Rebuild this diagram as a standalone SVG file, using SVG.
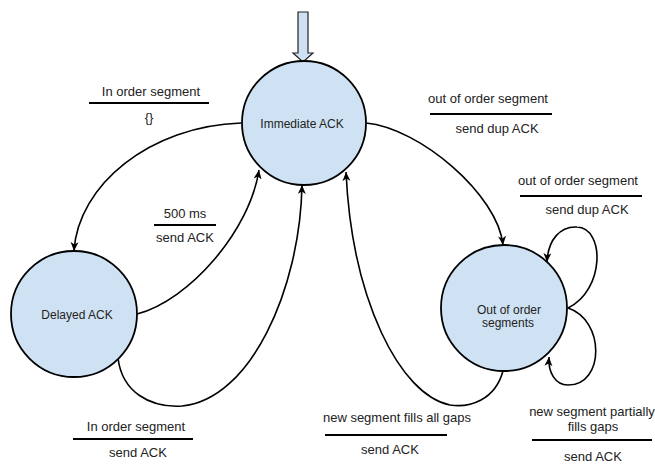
<svg xmlns="http://www.w3.org/2000/svg" width="655" height="464" viewBox="0 0 655 464">
<style>
.node circle{fill:#cfe2f3;stroke:#000;stroke-width:1.8}
.node text{font-family:"Liberation Sans",Arial,sans-serif;font-size:12px;fill:#222;text-anchor:middle}
.lbl text{font-family:"Liberation Sans",Arial,sans-serif;font-size:13px;fill:#222;text-anchor:middle}
.lbl line{stroke:#000;stroke-width:2}
.edge{fill:none;stroke:#000;stroke-width:1.6;marker-end:url(#ah)}
</style>
<defs>
<marker id="ah" markerUnits="userSpaceOnUse" markerWidth="12" markerHeight="10" refX="9" refY="4" orient="auto">
<path d="M0,0 L9,4 L0,8 L2.5,4 Z" fill="#000"/>
</marker>
</defs>
<rect width="655" height="464" fill="#fff"/>

<g id="start-arrow">
<path d="M298,12 H308 V53 H313 L303,62 L293,53 H298 Z" fill="#cfe2f3" stroke="#222" stroke-width="1.2"/>
</g>

<g id="connectors">
<path class="edge" d="M241,123 C150,126 78,185 74,251"/>
<path class="edge" d="M137,314 C190,300 250,230 259,170"/>
<path class="edge" d="M118,358 C122,392 150,408 182,406 C250,400 300,290 302,185"/>
<path class="edge" d="M503,371 C495,400 470,408 450,405 C400,395 352,300 346,172"/>
<path class="edge" d="M366,123 C420,128 498,195 503,245"/>
<path class="edge" d="M568,308 C605,290 605,228 577,227 C560,226 548,240 547,262"/>
<path class="edge" d="M568,308 C605,320 605,385 568,385 C555,385 548,372 549,357"/>
</g>

<g id="immediate-ack" class="node">
<circle cx="304" cy="123" r="62"/>
<text x="302" y="128">Immediate ACK</text>
</g>
<g id="delayed-ack" class="node">
<circle cx="74" cy="314" r="63"/>
<text x="77" y="319">Delayed ACK</text>
</g>
<g id="out-of-order" class="node">
<circle cx="504" cy="308" r="63"/>
<text x="509" y="314">Out of order</text>
<text x="508" y="327">segments</text>
</g>

<g id="labels" class="lbl">
<g id="lbl-imm-delayed">
<text x="151" y="96">In order segment</text>
<line x1="89" y1="103" x2="209" y2="103"/>
<text x="149" y="122">{}</text>
</g>
<g id="lbl-delayed-imm">
<text x="185" y="218">500 ms</text>
<line x1="154" y1="225" x2="216" y2="225"/>
<text x="185" y="242">send ACK</text>
</g>
<g id="lbl-imm-ooo">
<text x="488" y="103">out of order segment</text>
<line x1="430" y1="114" x2="552" y2="114"/>
<text x="497" y="133">send dup ACK</text>
</g>
<g id="lbl-ooo-self1">
<text x="578" y="185">out of order segment</text>
<line x1="520" y1="196" x2="642" y2="196"/>
<text x="587" y="214">send dup ACK</text>
</g>
<g id="lbl-delayed-imm2">
<text x="136" y="431">In order segment</text>
<line x1="73" y1="439" x2="193" y2="439"/>
<text x="138" y="457">send ACK</text>
</g>
<g id="lbl-ooo-imm">
<text x="397" y="422">new segment fills all gaps</text>
<line x1="325" y1="435" x2="447" y2="435"/>
<text x="390" y="454">send ACK</text>
</g>
<g id="lbl-ooo-self2">
<text x="592" y="416">new segment partially</text>
<text x="593" y="431">fills gaps</text>
<line x1="532" y1="440" x2="652" y2="440"/>
<text x="593" y="461">send ACK</text>
</g>
</g>
</svg>
